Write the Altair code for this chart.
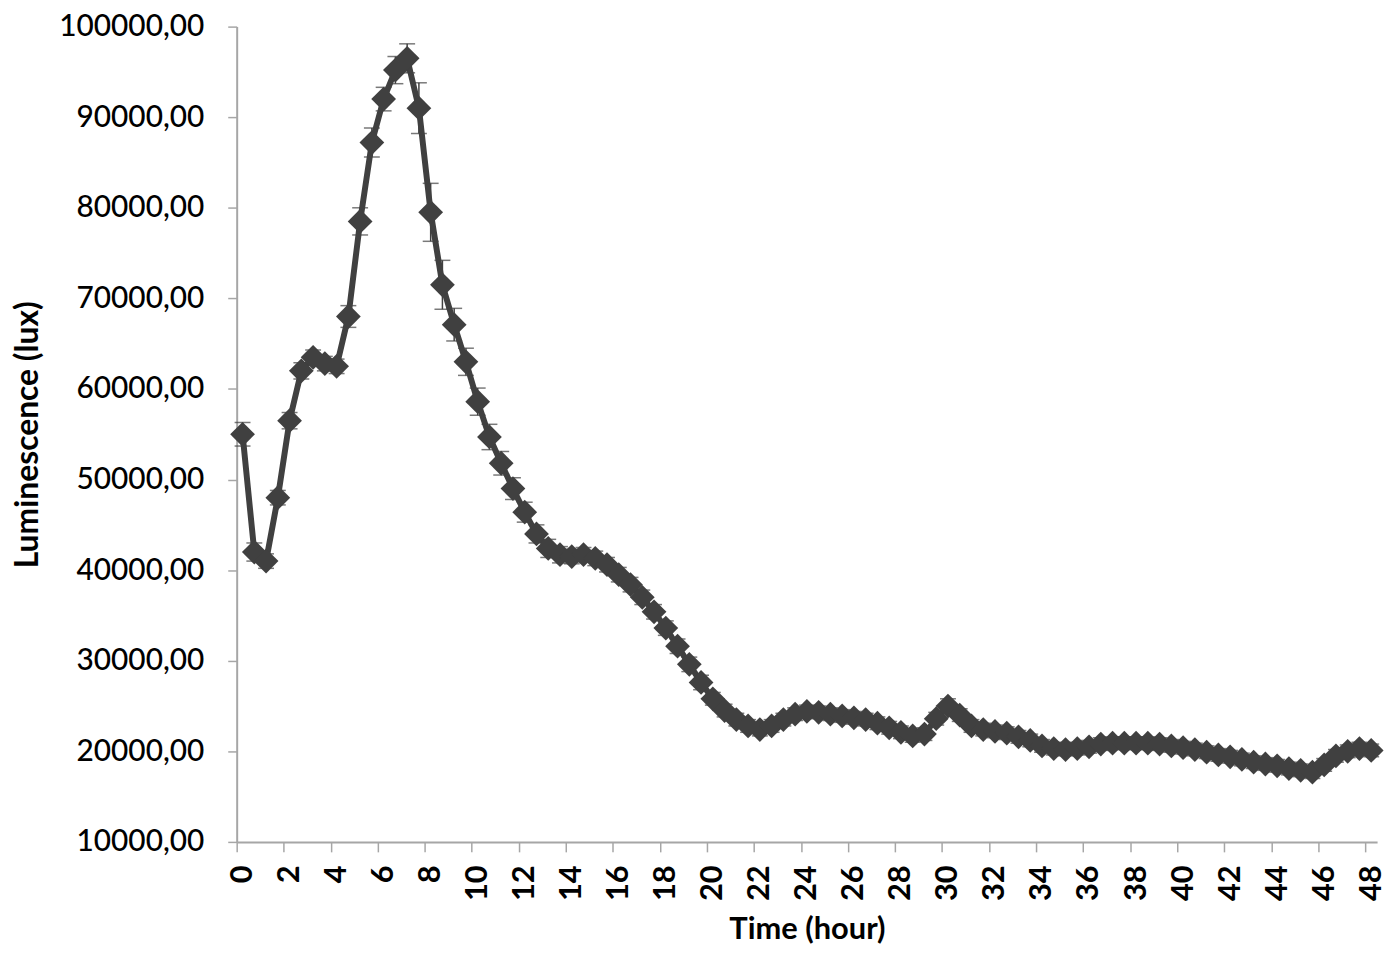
import altair as alt
import pandas as pd

# Time (hour), sampled every half hour
HOURS = [0, 0.5, 1, 1.5, 2, 2.5, 3, 3.5, 4, 4.5, 5, 5.5, 6, 6.5, 7, 7.5, 8, 8.5, 9, 9.5,
         10, 10.5, 11, 11.5, 12, 12.5, 13, 13.5, 14, 14.5, 15, 15.5, 16, 16.5, 17, 17.5,
         18, 18.5, 19, 19.5, 20, 20.5, 21, 21.5, 22, 22.5, 23, 23.5, 24, 24.5, 25, 25.5,
         26, 26.5, 27, 27.5, 28, 28.5, 29, 29.5, 30, 30.5, 31, 31.5, 32, 32.5, 33, 33.5,
         34, 34.5, 35, 35.5, 36, 36.5, 37, 37.5, 38, 38.5, 39, 39.5, 40, 40.5, 41, 41.5,
         42, 42.5, 43, 43.5, 44, 44.5, 45, 45.5, 46, 46.5, 47, 47.5, 48]

# Mean luminescence (lux)
LUMINESCENCE = [55000, 42000, 41000, 48000, 56500, 62000, 63500, 62800, 62500, 68000,
                78500, 87200, 92000, 95200, 96500, 91000, 79500, 71500, 67100, 63000,
                58600, 54700, 51800, 49000, 46400, 44000, 42400, 41700, 41500, 41700,
                41300, 40600, 39500, 38400, 37000, 35400, 33600, 31600, 29600, 27600,
                25800, 24500, 23500, 22800, 22400, 22800, 23500, 24100, 24400, 24300,
                24100, 23900, 23700, 23500, 23100, 22600, 22100, 21700, 21900, 23600,
                25000, 24000, 22800, 22400, 22200, 22000, 21600, 21200, 20600, 20300,
                20200, 20300, 20500, 20800, 20900, 20900, 20900, 20900, 20800, 20600,
                20400, 20200, 19900, 19600, 19400, 19100, 18800, 18600, 18400, 18100,
                17900, 17700, 18500, 19500, 20000, 20300, 20100]

# Error (+/-) of each point
ERROR = [1300, 1000, 800, 800, 900, 900, 800, 800, 800, 1200,
         1500, 1600, 1300, 1500, 1600, 2800, 3200, 2700, 1800, 1500,
         1500, 1400, 1300, 1200, 1100, 1000, 1000, 900, 800, 800,
         800, 800, 800, 800, 800, 800, 800, 800, 800, 800,
         700, 700, 700, 700, 700, 700, 700, 700, 700, 700,
         700, 700, 700, 700, 700, 700, 700, 700, 700, 700,
         800, 700, 700, 700, 700, 700, 700, 700, 700, 700,
         700, 700, 700, 700, 700, 700, 700, 700, 700, 700,
         700, 700, 700, 700, 700, 700, 700, 700, 700, 700,
         700, 700, 700, 700, 700, 700, 700]

X_LABEL_HOURS = [0, 2, 4, 6, 8, 10, 12, 14, 16, 18, 20, 22, 24, 26, 28, 30, 32, 34,
                 36, 38, 40, 42, 44, 46, 48]
Y_TICKS = [10000, 20000, 30000, 40000, 50000, 60000, 70000, 80000, 90000, 100000]

df = pd.DataFrame({"t": HOURS, "lum": LUMINESCENCE, "err": ERROR})
df["lo"] = df["lum"] - df["err"]
df["hi"] = df["lum"] + df["err"]

FONT = "Lato"
COL = "#404040"
AX = "#a6a6a6"

# category boundaries (Excel category axis: ticks between categories)
boundaries = [h - 0.25 for h in HOURS] + [HOURS[-1] + 0.25]
label_list = "[" + ",".join(str(v) for v in X_LABEL_HOURS) + "]"

x_scale = alt.Scale(domain=[HOURS[0] - 0.25, HOURS[-1] + 0.25], nice=False, zero=False)
y_scale = alt.Scale(domain=[Y_TICKS[0], Y_TICKS[-1]], nice=False, zero=False)

x_axis = alt.Axis(
    title="Time (hour)",
    values=boundaries,
    labelExpr=f"indexof({label_list}, datum.value + 0.25) >= 0 ? format(datum.value + 0.25, 'd') : ''",
    labelAngle=270,
    labelAlign="right",
    labelBaseline="middle",
    labelOffset=5.9,
    labelOverlap=False,
    labelFlush=False,
    labelBound=False,
    labelFont=FONT,
    labelFontSize=31,
    labelFontWeight="bold",
    labelColor="#000000",
    labelPadding=13,
    tickSize=10,
    tickColor=AX,
    tickWidth=1.5,
    domainColor=AX,
    domainWidth=2,
    grid=False,
    titleFont=FONT,
    titleFontSize=31,
    titleFontWeight="bold",
    titleColor="#000000",
    titlePadding=14,
)

y_axis = alt.Axis(
    title="Luminescence (lux)",
    values=Y_TICKS,
    labelExpr="replace(format(datum.value, '.2f'), '.', ',')",
    labelFont=FONT,
    labelFontSize=30,
    labelFontWeight=500,
    labelColor="#000000",
    labelPadding=24,
    tickSize=9,
    tickColor=AX,
    tickWidth=1.5,
    domainColor=AX,
    domainWidth=2,
    grid=False,
    titleFont=FONT,
    titleFontSize=32,
    titleFontWeight="bold",
    titleColor="#000000",
    titlePadding=14,
)

base = alt.Chart(df)

err_rule = base.mark_rule(color=COL, strokeWidth=1.5).encode(
    x=alt.X("t:Q", scale=x_scale, axis=x_axis),
    y=alt.Y("lo:Q", scale=y_scale, axis=y_axis),
    y2="hi:Q",
)
cap_lo = base.mark_tick(color=COL, orient="horizontal", size=16, thickness=1.5).encode(
    x="t:Q", y="lo:Q"
)
cap_hi = base.mark_tick(color=COL, orient="horizontal", size=16, thickness=1.5).encode(
    x="t:Q", y="hi:Q"
)
line = base.mark_line(color=COL, strokeWidth=6).encode(x="t:Q", y="lum:Q")
pts = base.mark_point(shape="diamond", filled=True, color=COL, opacity=1, size=620).encode(
    x="t:Q", y="lum:Q"
)

chart = alt.layer(err_rule, cap_lo, cap_hi, line, pts).properties(
    width=1147,
    height=820,
    padding={"left": 230, "top": 16, "right": 15, "bottom": 108},
    autosize=alt.AutoSizeParams(type="none"),
    background="white",
).configure_view(stroke=None)

chart.save("out.html", embed_options={"renderer": "svg", "actions": False})
